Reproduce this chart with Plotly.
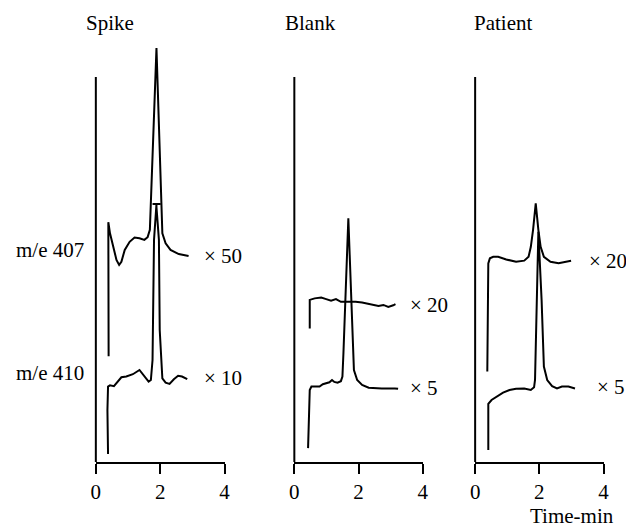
import plotly.graph_objects as go

# ---- data (time in min, signal in arbitrary units) ----
panels = ["Spike", "Blank", "Patient"]

spike_407_t = [0.397, 0.388, 0.44, 0.54, 0.641, 0.724, 0.794, 0.898, 1.05, 1.203, 1.356, 1.508, 1.609, 1.679, 1.884, 2.067, 2.168, 2.321, 2.577, 2.882]
spike_407_y = [27.5, 62.3, 59.4, 55.9, 52.5, 51.2, 52.0, 55.1, 57.2, 58.3, 58.1, 57.7, 58.4, 60.3, 107.5, 59.4, 56.8, 55.1, 54.0, 53.5]

spike_410_t = [0.379, 0.36, 0.379, 0.44, 0.562, 0.641, 0.794, 0.947, 1.151, 1.356, 1.508, 1.64, 1.71,
               1.762, 1.808, 1.884, 1.884, 1.762, 2.015, 1.884, 1.884, 1.96, 1.985,
               2.067, 2.168, 2.29, 2.424, 2.556, 2.678, 2.84]
spike_410_y = [2.1, 13.5, 19.6, 19.9, 19.7, 20.4, 22.0, 22.2, 22.8, 23.9, 22.3, 20.9, 21.3,
               26.5, 57.7, 66.2, 67.0, 67.0, 67.0, 67.0, 66.2, 57.7, 34.3,
               21.7, 20.6, 20.3, 21.5, 22.4, 22.2, 21.5]

blank_407_t = [0.48, 0.48, 0.633, 0.838, 0.991, 1.144, 1.297, 1.45, 1.651, 1.908, 2.11, 2.315, 2.468, 2.621, 2.774, 2.927, 3.08, 3.15]
blank_407_y = [34.7, 42.1, 42.5, 42.7, 42.3, 41.9, 42.3, 41.6, 41.6, 41.6, 41.4, 41.0, 40.8, 40.5, 40.8, 40.3, 40.7, 41.0]

blank_410_t = [0.428, 0.48, 0.532, 0.685, 0.786, 0.887, 0.991, 1.092, 1.174, 1.245, 1.346, 1.45, 1.498, 1.529, 1.682, 1.804, 1.856, 1.957, 2.11, 2.315, 2.722, 3.131, 3.232]
blank_410_y = [3.6, 18.7, 19.6, 19.7, 19.6, 20.2, 20.4, 20.7, 21.3, 20.8, 20.6, 21.0, 22.2, 28.2, 63.3, 36.9, 23.9, 21.3, 20.0, 19.3, 19.1, 19.1, 19.0]

patient_407_t = [0.379, 0.41, 0.459, 0.563, 0.716, 0.969, 1.275, 1.529, 1.664, 1.734, 1.804, 1.887, 1.969, 2.04, 2.141, 2.346, 2.599, 2.804, 2.988]
patient_407_y = [23.5, 51.6, 52.9, 53.3, 53.3, 52.6, 52.0, 52.3, 53.3, 55.9, 60.3, 67.2, 60.3, 55.9, 53.3, 52.0, 51.6, 51.9, 52.3]

patient_410_t = [0.41, 0.41, 0.511, 0.664, 0.869, 1.07, 1.275, 1.529, 1.633, 1.734, 1.835, 1.865, 1.969, 2.07, 2.141, 2.245, 2.398, 2.55, 2.703, 2.905, 3.11]
patient_410_y = [3.1, 15.1, 16.1, 17.0, 18.0, 18.7, 19.0, 19.1, 18.9, 18.7, 19.4, 21.3, 59.8, 42.1, 24.8, 21.3, 19.7, 19.1, 19.6, 19.6, 19.1]

gain_labels = ["× 50", "× 10", "× 20", "× 5", "× 20", "× 5"]
gain_x = [3.30, 3.30, 3.55, 3.55, 3.48, 3.73]
gain_y = [53.5, 21.7, 40.8, 19.1, 52.2, 19.4]

row_labels = ["m/e 407", "m/e 410"]
row_y = [55.1, 23.2]

x_ticks = [0, 2, 4]
x_range = [0, 4]
y_range = [0, 112]
axis_top = 100

FONT = "Liberation Serif, Times New Roman, serif"
FS = 21

# page layout helpers (the page body adds an 8px offset)
W, H, OFF = 634, 528, 8
def px(p):
    return (p - OFF) / W
def py(p):
    return 1 - (p - OFF) / H

series = [
    (spike_407_t, spike_407_y, 1), (spike_410_t, spike_410_y, 1),
    (blank_407_t, blank_407_y, 2), (blank_410_t, blank_410_y, 2),
    (patient_407_t, patient_407_y, 3), (patient_410_t, patient_410_y, 3),
]

fig = go.Figure()
for t, y, k in series:
    fig.add_trace(go.Scatter(
        x=t, y=y, mode="lines",
        line=dict(color="black", width=2),
        xaxis="x" if k == 1 else f"x{k}",
        yaxis="y" if k == 1 else f"y{k}",
        showlegend=False, hoverinfo="skip",
    ))

domains = [[px(92.3), px(223.3)], [px(294.3), px(425)], [px(478.3), px(609)]]
y_dom = [py(462), py(30.8)]
layout = dict(
    width=W, height=H,
    margin=dict(l=0, r=0, t=0, b=0),
    paper_bgcolor="white", plot_bgcolor="white",
    font=dict(family=FONT, size=FS, color="black"),
    showlegend=False,
)
for i, dom in enumerate(domains, start=1):
    sx = "" if i == 1 else str(i)
    layout[f"xaxis{sx}"] = dict(
        domain=dom, range=x_range, tickvals=x_ticks,
        ticktext=[str(v) for v in x_ticks],
        showline=True, linecolor="black", linewidth=2,
        ticks="outside", ticklen=10, tickwidth=2, tickcolor="black",
        showgrid=False, zeroline=False, anchor=f"y{sx}",
        tickfont=dict(family=FONT, size=FS, color="black"),
        fixedrange=True,
    )
    layout[f"yaxis{sx}"] = dict(
        domain=y_dom, range=y_range, visible=False,
        showgrid=False, zeroline=False, anchor=f"x{sx}", fixedrange=True,
    )
fig.update_layout(**layout)

# vertical axis lines (left edge of each panel, from 0 to axis_top)
for i in range(1, 4):
    sx = "" if i == 1 else str(i)
    fig.add_shape(type="line", xref=f"x{sx} domain", yref=f"y{sx} domain",
                  x0=0, x1=0, y0=0, y1=axis_top / y_range[1],
                  line=dict(color="black", width=2))

# panel titles
title_x = [0.455, 0.495, 0.87]
for i, (name, tx) in enumerate(zip(panels, title_x), start=1):
    sx = "" if i == 1 else str(i)
    fig.add_annotation(text=name, x=tx, xref=f"x{sx}", y=py(23), yref="paper",
                       showarrow=False, xanchor="center", yanchor="middle",
                       font=dict(family=FONT, size=FS, color="black"))

# gain labels
axes_of = ["", "", "2", "2", "3", "3"]
for lab, gx, gy, sx in zip(gain_labels, gain_x, gain_y, axes_of):
    fig.add_annotation(text=lab, x=gx, y=gy, xref=f"x{sx}", yref=f"y{sx}",
                       showarrow=False, xanchor="left", yanchor="middle",
                       font=dict(family=FONT, size=FS, color="black"))

# row labels
for lab, ry in zip(row_labels, row_y):
    fig.add_annotation(text=lab, x=px(45.8), xref="paper", y=ry, yref="y",
                       showarrow=False, xanchor="center", yanchor="middle",
                       font=dict(family=FONT, size=FS, color="black"))

# x axis title
fig.add_annotation(text="Time-min", x=3.02, xref="x3", y=py(516), yref="paper",
                   showarrow=False, xanchor="center", yanchor="middle",
                   font=dict(family=FONT, size=FS, color="black"))

fig.write_html("out.html")
